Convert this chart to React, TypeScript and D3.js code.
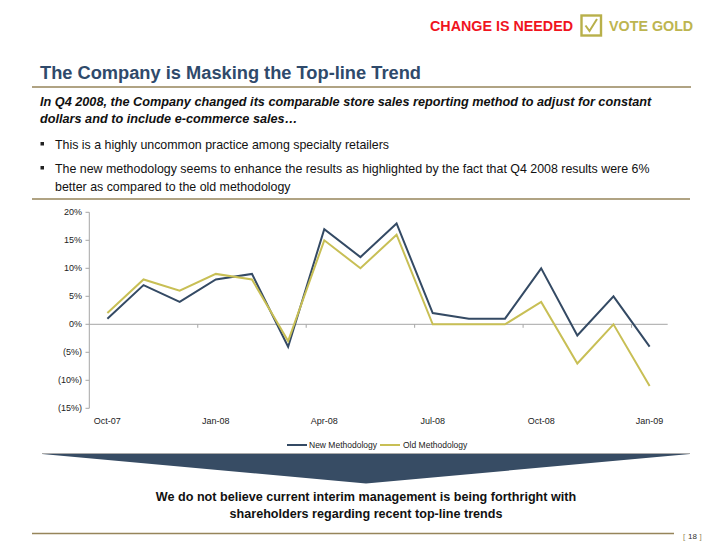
import React from "react";
import * as d3 from "d3";

const months = ["Oct-07","Nov-07","Dec-07","Jan-08","Feb-08","Mar-08","Apr-08","May-08","Jun-08","Jul-08","Aug-08","Sep-08","Oct-08","Nov-08","Dec-08","Jan-09"];
const newMethod = [1, 7, 4, 8, 9, -4, 17, 12, 18, 2, 1, 1, 10, -2, 5, -4];
const oldMethod = [2, 8, 6, 9, 8, -3, 15, 10, 16, 0, 0, 0, 4, -7, 0, -11];
const yTicks = [20, 15, 10, 5, 0, -5, -10, -15];
const xLabelIdx = [0, 3, 6, 9, 12, 15];
const seriesNames = ["New Methodology", "Old Methodology"];

const FONT = "'Liberation Sans', Arial, Helvetica, sans-serif";
const NAVY = "#344a64";
const GOLD = "#c8bf55";
const RULE = "#96855a";

export default function App() {
  const x = d3.scaleBand<string>().domain(months).range([89.3, 667.7]).padding(0);
  const y = d3.scaleLinear().domain([-15, 20]).range([408.3, 212.3]);
  const cx = (i: number) => (x(months[i]) as number) + x.bandwidth() / 2;
  const line = d3.line<number>().x((_, i) => cx(i)).y((d) => y(d));
  const fmt = (v: number) => (v < 0 ? `(${Math.abs(v)}%)` : `${v}%`);
  const boundaryTicks = [3, 6, 9, 12, 15].map((i) => x(months[i]) as number);

  return (
    <div style={{ position: "absolute", left: 0, top: 0 }}>
      <svg width={720} height={556} style={{ display: "block", background: "#fff" }} fontFamily={FONT}>
        {/* header */}
        <text x={430} y={31} fontSize={14.3} fontWeight="bold" fill="#f0141e">CHANGE IS NEEDED</text>
        <rect x={581.5} y={15.5} width={19.5} height={20} fill="none" stroke="#b8b04a" strokeWidth={2.4} />
        <path d="M585.5,25.5 L589.5,31 L597,19" fill="none" stroke="#b8b04a" strokeWidth={2} />
        <text x={609} y={31} fontSize={14.3} fontWeight="bold" fill="#bdb550">VOTE GOLD</text>

        {/* title */}
        <text x={40} y={79} fontSize={18.25} fontWeight="bold" fill="#2f4a6b">The Company is Masking the Top-line Trend</text>
        <line x1={32} x2={691} y1={87} y2={87} stroke={RULE} strokeWidth={1.5} />

        <text fontSize={12.7} fontWeight="bold" fontStyle="italic" fill="#111">
          <tspan x={40} y={106}>In Q4 2008, the Company changed its comparable store sales reporting method to adjust for constant</tspan>
          <tspan x={40} y={123}>dollars and to include e-commerce sales…</tspan>
        </text>

        <rect x={40.5} y={142} width={3.5} height={3.5} fill="#222" />
        <text x={55} y={149} fontSize={12.4} fill="#111">This is a highly uncommon practice among specialty retailers</text>
        <rect x={40.5} y={166} width={3.5} height={3.5} fill="#222" />
        <text fontSize={12.4} fill="#111">
          <tspan x={55} y={173}>The new methodology seems to enhance the results as highlighted by the fact that Q4 2008 results were 6%</tspan>
          <tspan x={55} y={191}>better as compared to the old methodology</tspan>
        </text>
        <line x1={32} x2={690} y1={199} y2={199} stroke={RULE} strokeWidth={1.5} />

        {/* chart axes */}
        <line x1={89.3} x2={89.3} y1={y(20)} y2={y(-15)} stroke="#a6a6a6" strokeWidth={1} />
        {yTicks.map((t) => (
          <g key={t}>
            <line x1={85.5} x2={89.3} y1={y(t)} y2={y(t)} stroke="#a6a6a6" />
            <text x={82} y={y(t)} dy="0.35em" fontSize={9} textAnchor="end" fill="#222">{fmt(t)}</text>
          </g>
        ))}
        <line x1={89.3} x2={667.7} y1={y(0)} y2={y(0)} stroke="#a6a6a6" strokeWidth={1} />
        {boundaryTicks.map((bx, i) => (
          <line key={i} x1={bx} x2={bx} y1={y(0)} y2={y(0) + 3.5} stroke="#a6a6a6" />
        ))}
        {xLabelIdx.map((i) => (
          <text key={i} x={cx(i)} y={424} fontSize={9} textAnchor="middle" fill="#222">{months[i]}</text>
        ))}

        <path d={line(newMethod) || ""} fill="none" stroke={NAVY} strokeWidth={2} strokeLinejoin="miter" />
        <path d={line(oldMethod) || ""} fill="none" stroke={GOLD} strokeWidth={2} strokeLinejoin="miter" />

        {/* legend */}
        <line x1={287} x2={307} y1={445} y2={445} stroke={NAVY} strokeWidth={2} />
        <text x={309} y={448} fontSize={8.5} fill="#222">{seriesNames[0]}</text>
        <line x1={380} x2={400} y1={445} y2={445} stroke={GOLD} strokeWidth={2} />
        <text x={403} y={448} fontSize={8.5} fill="#222">{seriesNames[1]}</text>

        {/* banner */}
        <line x1={42} x2={690} y1={453.5} y2={453.5} stroke="#a9a9a9" strokeWidth={1} />
        <path d="M42,454 L690,454 L366,483.5 Z" fill="#374c64" />

        <text fontSize={12.6} fontWeight="bold" fill="#111" textAnchor="middle">
          <tspan x={366} y={501}>We do not believe current interim management is being forthright with</tspan>
          <tspan x={366} y={518}>shareholders regarding recent top-line trends</tspan>
        </text>

        <line x1={32} x2={674} y1={533.5} y2={533.5} stroke={RULE} strokeWidth={1.5} />
        <text x={683} y={539} fontSize={8} fill="#9a8a5a">[</text>
        <text x={692.5} y={539} fontSize={8} fill="#333" textAnchor="middle">18</text>
        <text x={699.5} y={539} fontSize={8} fill="#9a8a5a">]</text>
      </svg>
    </div>
  );
}
